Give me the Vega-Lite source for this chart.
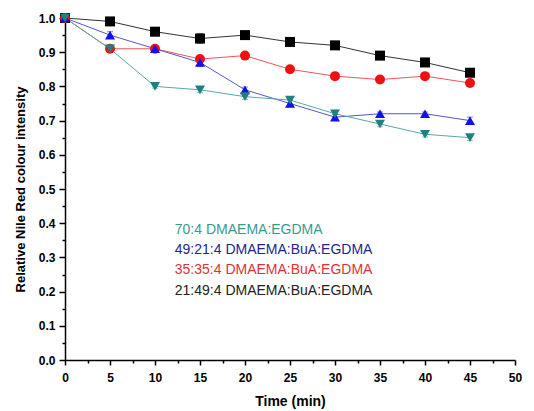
{
  "$schema": "https://vega.github.io/schema/vega-lite/v6.json",
  "width": 450,
  "height": 342,
  "autosize": "none",
  "padding": {"left": 65, "top": 18, "right": 19, "bottom": 51},
  "background": "white",
  "config": {
    "view": {"stroke": null},
    "font": "Liberation Sans",
    "axis": {
      "domainColor": "#000",
      "domainWidth": 1.5,
      "tickColor": "#000",
      "tickWidth": 1.5,
      "grid": false,
      "labelFont": "Liberation Sans",
      "labelFontWeight": "bold",
      "labelFontSize": 12,
      "labelColor": "#000",
      "titleFont": "Liberation Sans",
      "titleFontWeight": "bold",
      "titleFontSize": 14,
      "titleColor": "#000"
    }
  },
  "datasets": {
    "series": [
      {"series": "21:49:4", "time": 0, "value": 1.0, "err": 0.0},
      {"series": "21:49:4", "time": 5, "value": 0.99, "err": 0.005},
      {"series": "21:49:4", "time": 10, "value": 0.96, "err": 0.012},
      {"series": "21:49:4", "time": 15, "value": 0.94, "err": 0.014},
      {"series": "21:49:4", "time": 20, "value": 0.95, "err": 0.005},
      {"series": "21:49:4", "time": 25, "value": 0.93, "err": 0.01},
      {"series": "21:49:4", "time": 30, "value": 0.92, "err": 0.008},
      {"series": "21:49:4", "time": 35, "value": 0.89, "err": 0.005},
      {"series": "21:49:4", "time": 40, "value": 0.87, "err": 0.005},
      {"series": "21:49:4", "time": 45, "value": 0.84, "err": 0.005},
      {"series": "35:35:4", "time": 0, "value": 1.0, "err": 0.0},
      {"series": "35:35:4", "time": 5, "value": 0.91, "err": 0.008},
      {"series": "35:35:4", "time": 10, "value": 0.91, "err": 0.005},
      {"series": "35:35:4", "time": 15, "value": 0.88, "err": 0.01},
      {"series": "35:35:4", "time": 20, "value": 0.89, "err": 0.005},
      {"series": "35:35:4", "time": 25, "value": 0.85, "err": 0.005},
      {"series": "35:35:4", "time": 30, "value": 0.83, "err": 0.005},
      {"series": "35:35:4", "time": 35, "value": 0.82, "err": 0.005},
      {"series": "35:35:4", "time": 40, "value": 0.83, "err": 0.005},
      {"series": "35:35:4", "time": 45, "value": 0.81, "err": 0.005},
      {"series": "49:21:4", "time": 0, "value": 1.0, "err": 0.0},
      {"series": "49:21:4", "time": 5, "value": 0.95, "err": 0.01},
      {"series": "49:21:4", "time": 10, "value": 0.91, "err": 0.008},
      {"series": "49:21:4", "time": 15, "value": 0.87, "err": 0.012},
      {"series": "49:21:4", "time": 20, "value": 0.79, "err": 0.008},
      {"series": "49:21:4", "time": 25, "value": 0.75, "err": 0.01},
      {"series": "49:21:4", "time": 30, "value": 0.71, "err": 0.008},
      {"series": "49:21:4", "time": 35, "value": 0.72, "err": 0.005},
      {"series": "49:21:4", "time": 40, "value": 0.72, "err": 0.005},
      {"series": "49:21:4", "time": 45, "value": 0.70, "err": 0.01},
      {"series": "70:4", "time": 0, "value": 1.0, "err": 0.0},
      {"series": "70:4", "time": 5, "value": 0.91, "err": 0.01},
      {"series": "70:4", "time": 10, "value": 0.80, "err": 0.005},
      {"series": "70:4", "time": 15, "value": 0.79, "err": 0.008},
      {"series": "70:4", "time": 20, "value": 0.77, "err": 0.008},
      {"series": "70:4", "time": 25, "value": 0.76, "err": 0.01},
      {"series": "70:4", "time": 30, "value": 0.72, "err": 0.01},
      {"series": "70:4", "time": 35, "value": 0.69, "err": 0.008},
      {"series": "70:4", "time": 40, "value": 0.66, "err": 0.008},
      {"series": "70:4", "time": 45, "value": 0.65, "err": 0.008}
    ],
    "labels": [
      {"label": "70:4 DMAEMA:EGDMA", "lx": 12.2, "ly": 0.38, "c": "#3a9a8c"},
      {"label": "49:21:4 DMAEMA:BuA:EGDMA", "lx": 12.2, "ly": 0.321, "c": "#25258f"},
      {"label": "35:35:4 DMAEMA:BuA:EGDMA", "lx": 12.2, "ly": 0.263, "c": "#e03232"},
      {"label": "21:49:4 DMAEMA:BuA:EGDMA", "lx": 12.2, "ly": 0.202, "c": "#222222"}
    ]
  },
  "data": {"name": "series"},
  "encoding": {
    "x": {
      "field": "time", "type": "quantitative",
      "scale": {"domain": [0, 50], "nice": false},
      "axis": {
        "title": "Time (min)",
        "values": [0, 2.5, 5, 7.5, 10, 12.5, 15, 17.5, 20, 22.5, 25, 27.5, 30, 32.5, 35, 37.5, 40, 42.5, 45, 47.5, 50],
        "labelExpr": "datum.value % 5 === 0 ? datum.label : ''",
        "tickSize": {"condition": {"test": "datum.value % 5 === 0", "value": 5}, "value": 3},
        "labelPadding": 7,
        "titlePadding": 11,
        "labelFlush": false
      }
    },
    "y": {
      "field": "value", "type": "quantitative",
      "scale": {"domain": [0, 1], "nice": false},
      "axis": {
        "title": "Relative Nile Red colour intensity",
        "titleFontSize": 13,
        "values": [0, 0.05, 0.1, 0.15, 0.2, 0.25, 0.3, 0.35, 0.4, 0.45, 0.5, 0.55, 0.6, 0.65, 0.7, 0.75, 0.8, 0.85, 0.9, 0.95, 1.0],
        "labelExpr": "round(datum.value * 100) % 10 === 0 ? format(datum.value, '.1f') : ''",
        "tickSize": {"condition": {"test": "round(datum.value * 100) % 10 === 0", "value": 6}, "value": 3},
        "labelPadding": 4,
        "titlePadding": 11,
        "labelFlush": false
      }
    }
  },
  "layer": [
    {
      "mark": {"type": "line", "strokeWidth": 1},
      "encoding": {
        "color": {
          "field": "series", "type": "nominal", "legend": null,
          "scale": {"domain": ["21:49:4", "35:35:4", "49:21:4", "70:4"], "range": ["#333333", "#ee5555", "#5555cc", "#5aa8a8"]}
        },
        "detail": {"field": "series"}
      }
    },
    {
      "mark": {"type": "errorbar", "ticks": {"size": 6}, "thickness": 1},
      "encoding": {
        "yError": {"field": "err"},
        "color": {
          "field": "series", "type": "nominal", "legend": null,
          "scale": {"domain": ["21:49:4", "35:35:4", "49:21:4", "70:4"], "range": ["#333333", "#ee5555", "#5555cc", "#5aa8a8"]}
        }
      }
    },
    {
      "mark": {"type": "point", "filled": true, "opacity": 1, "size": 100},
      "encoding": {
        "fill": {
          "field": "series", "type": "nominal", "legend": null,
          "scale": {"domain": ["21:49:4", "35:35:4", "49:21:4", "70:4"], "range": ["#000000", "#ee1111", "#1111ee", "#1f8080"]}
        },
        "shape": {
          "field": "series", "type": "nominal", "legend": null,
          "scale": {"domain": ["21:49:4", "35:35:4", "49:21:4", "70:4"], "range": ["square", "circle", "triangle-up", "triangle-down"]}
        }
      }
    },
    {
      "data": {"name": "labels"},
      "mark": {"type": "text", "align": "left", "baseline": "middle", "fontSize": 14, "font": "Liberation Sans"},
      "encoding": {
        "x": {"field": "lx", "type": "quantitative"},
        "y": {"field": "ly", "type": "quantitative"},
        "text": {"field": "label"},
        "color": {"field": "c", "type": "nominal", "scale": null}
      }
    }
  ]
}
